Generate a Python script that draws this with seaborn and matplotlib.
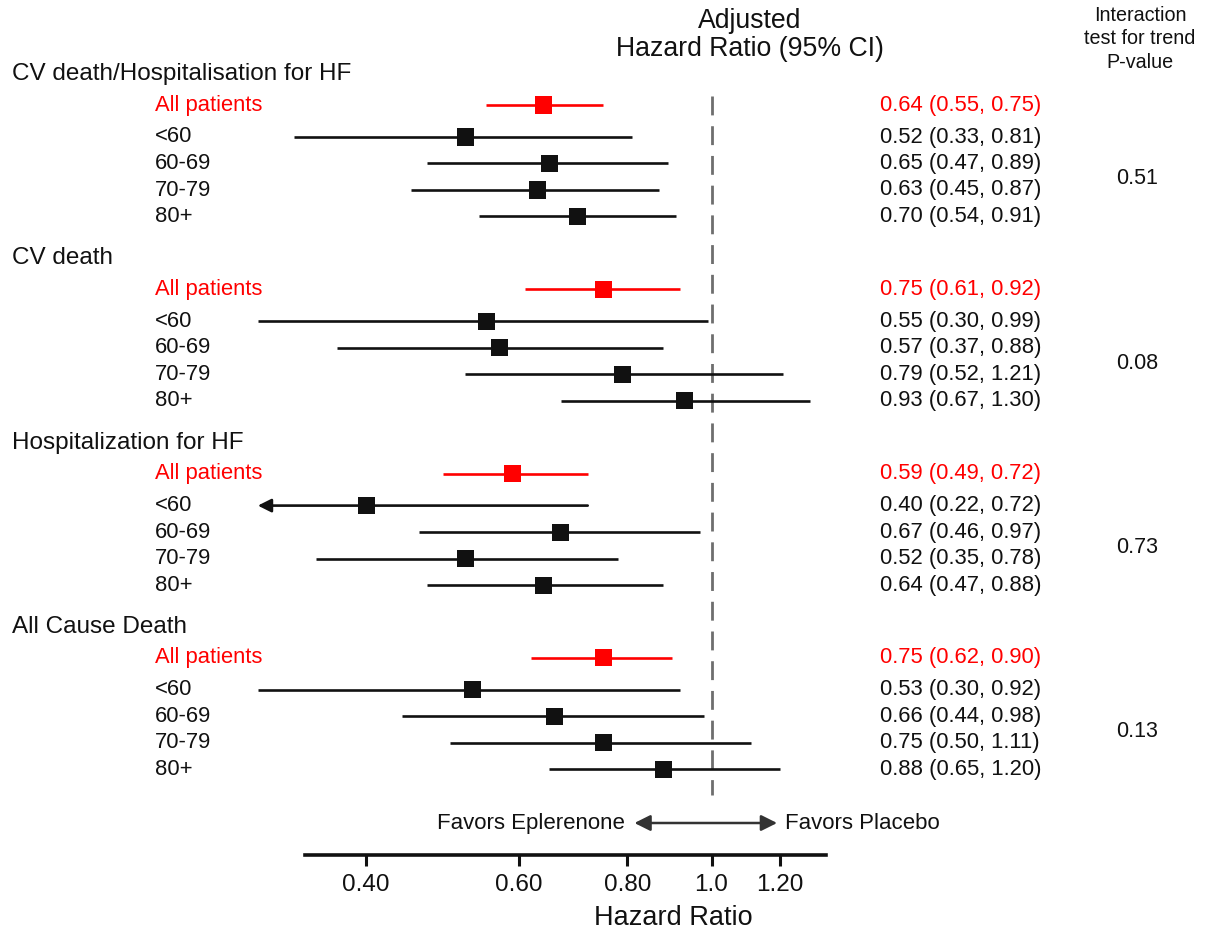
"""
Forest plot: eplerenone vs placebo by age group
"""

import numpy as np
import pandas as pd
import matplotlib
matplotlib.use("Agg")
import matplotlib.pyplot as plt
import matplotlib.transforms as mtransforms
import seaborn as sns

# Data
outcomes = ["CV death/Hospitalisation for HF", "CV death",
            "Hospitalization for HF", "All Cause Death"]
subgroups = ["All patients", "<60", "60-69", "70-79", "80+"]

hr = [[0.64, 0.52, 0.65, 0.63, 0.70],
      [0.75, 0.55, 0.57, 0.79, 0.93],
      [0.59, 0.40, 0.67, 0.52, 0.64],
      [0.75, 0.53, 0.66, 0.75, 0.88]]
ci_low = [[0.55, 0.33, 0.47, 0.45, 0.54],
          [0.61, 0.30, 0.37, 0.52, 0.67],
          [0.49, 0.22, 0.46, 0.35, 0.47],
          [0.62, 0.30, 0.44, 0.50, 0.65]]
ci_high = [[0.75, 0.81, 0.89, 0.87, 0.91],
           [0.92, 0.99, 0.88, 1.21, 1.30],
           [0.72, 0.72, 0.97, 0.78, 0.88],
           [0.90, 0.92, 0.98, 1.11, 1.20]]
p_values = ["0.51", "0.08", "0.73", "0.13"]

x_ticks = [0.40, 0.60, 0.80, 1.0, 1.20]
x_ticklabels = ["0.40", "0.60", "0.80", "1.0", "1.20"]

RED = "#ff0000"
BLACK = "#111111"
X_MIN, X_MAX = 0.34, 1.355
CLIP_LOW = 0.30   # CIs below this get an arrow

# Styling
sns.set_style("white")
plt.rcParams["font.family"] = ["Liberation Sans", "DejaVu Sans"]

# Layout (rows measured in pixel rows from the top)
GROUP_TOP = 74
GROUP_STEP = 184.3

rows = []
for g, outcome in enumerate(outcomes):
    top = GROUP_TOP + g * GROUP_STEP
    for i, sub in enumerate(subgroups):
        y = top + 31 if i == 0 else top + 63 + (i - 1) * 26.5
        rows.append({
            "outcome": outcome, "group": g, "sub": sub, "y": y,
            "hr": hr[g][i], "lo": ci_low[g][i], "hi": ci_high[g][i],
            "kind": "all" if i == 0 else "age",
        })
df = pd.DataFrame(rows)

fig = plt.figure(figsize=(12.23, 9.30), dpi=100)
ax = fig.add_axes([305 / 1223, 1 - 855 / 930, 521 / 1223, 855 / 930])
ax.set_xscale("log")
ax.set_xlim(X_MIN, X_MAX)
ax.set_ylim(855, 0)

# reference line
ax.vlines(1.0, 96, 795, colors="#6e6e6e", lw=2.0, linestyles=(0, (6.8, 3.9)))

# confidence intervals
for _, r in df.iterrows():
    col = RED if r["kind"] == "all" else BLACK
    if r["lo"] < CLIP_LOW:
        ax.annotate("", xy=(CLIP_LOW, r["y"]), xytext=(r["hi"], r["y"]),
                    annotation_clip=False,
                    arrowprops=dict(arrowstyle="-|>", color=col, lw=1.9,
                                    mutation_scale=20, shrinkA=0, shrinkB=0))
    else:
        ax.hlines(r["y"], r["lo"], r["hi"], colors=col, lw=1.9, clip_on=False)

sns.scatterplot(data=df, x="hr", y="y", hue="kind",
                palette={"all": RED, "age": BLACK}, marker="s", s=150,
                linewidth=0, legend=False, ax=ax, zorder=3)

# axis styling
for side in ["top", "left", "right"]:
    ax.spines[side].set_visible(False)
ax.spines["bottom"].set_linewidth(2.6)
ax.spines["bottom"].set_color(BLACK)
ax.set_xticks(x_ticks)
ax.set_xticklabels(x_ticklabels, fontsize=17.5, color=BLACK)
ax.xaxis.set_minor_locator(matplotlib.ticker.NullLocator())
ax.tick_params(axis="x", direction="out", length=8, width=2.2, pad=6,
               bottom=True, color=BLACK)
ax.set_yticks([])
ax.set_ylabel("")
ax.set_xlabel("Hazard Ratio", fontsize=19.5, color=BLACK)
ax.xaxis.set_label_coords((673 - 305) / 521, -0.058)
ax.patch.set_alpha(0)

# text columns
trans = mtransforms.blended_transform_factory(fig.transFigure, ax.transData)
for g, outcome in enumerate(outcomes):
    sub = df[df["group"] == g]
    ax.text(12 / 1223, GROUP_TOP + g * GROUP_STEP, outcome, transform=trans,
            fontsize=17.5, color=BLACK, va="center", ha="left")
    for _, r in sub.iterrows():
        col = RED if r["kind"] == "all" else BLACK
        ax.text(155 / 1223, r["y"], r["sub"], transform=trans, fontsize=15.8,
                color=col, va="center", ha="left")
        ax.text(880 / 1223, r["y"],
                f"{r['hr']:.2f} ({r['lo']:.2f}, {r['hi']:.2f})",
                transform=trans, fontsize=15.8, color=col, va="center", ha="left")
    ages = sub[sub["kind"] == "age"]["y"]
    ax.text(1137 / 1223, (ages.min() + ages.max()) / 2 + 2, p_values[g],
            transform=trans, fontsize=15.5, color=BLACK, va="center", ha="center")

# column headers
fig.text(750 / 1223, 1 - 35 / 930, "Adjusted\nHazard Ratio (95% CI)",
         fontsize=19.2, color=BLACK, ha="center", va="center", linespacing=1.08)
fig.text(1140 / 1223, 1 - 39 / 930, "Interaction\ntest for trend\nP-value",
         fontsize=14.2, color=BLACK, ha="center", va="center", linespacing=1.3)

# favours arrow
ax.annotate("", xy=(0.815, 823), xytext=(1.19, 823), annotation_clip=False,
            arrowprops=dict(arrowstyle="<|-|>", color="#333333", lw=1.8,
                            mutation_scale=24, shrinkA=0, shrinkB=0))
ax.text(0.795, 823, "Favors Eplerenone", fontsize=16, color=BLACK,
        ha="right", va="center")
ax.text(1.215, 823, "Favors Placebo", fontsize=16, color=BLACK,
        ha="left", va="center", clip_on=False)

fig.savefig("out.png", dpi=100)
